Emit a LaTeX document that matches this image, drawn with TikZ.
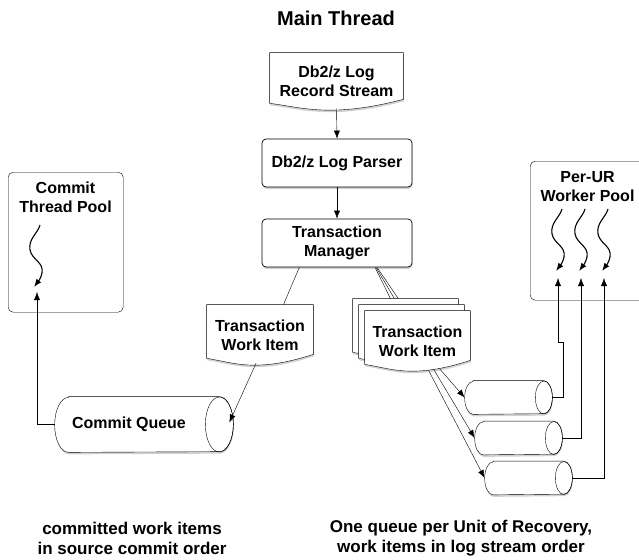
\documentclass[tikz,border=0pt]{standalone}
\usepackage{fontspec}
\setmainfont{Liberation Sans}
\usetikzlibrary{arrows.meta, calc, shadows}

\pgfdeclarelayer{lines}
\pgfdeclarelayer{sheets}
\pgfsetlayers{lines,sheets,main}

\tikzset{
  lbl/.style={font=\bfseries\fontsize{16}{19}\selectfont, align=center},
  note/.style={font=\bfseries\fontsize{17}{20}\selectfont, align=center},
  dropsh/.style={drop shadow={shadow xshift=0.5pt, shadow yshift=-2pt, opacity=0.3, fill=black!60}},
  box/.style={lbl, draw, fill=white, rounded corners=4pt, minimum width=150pt, minimum height=48pt, dropsh},
  sheet/.style={lbl, inner sep=0pt},
  qbody/.style={inner sep=0pt},
  sheetline/.style={draw, fill=white, dropsh},
  pool/.style={draw, rounded corners=5pt, minimum width=115pt, minimum height=140pt, anchor=north west},
  arr/.style={-{Latex[length=8pt,width=6pt]}},
  thread/.pic={\draw[arr, line width=1.1pt] (0,0) .. controls (-2,8) and (-12,14) .. (-10,25)
    .. controls (-8,35) and (4,37) .. (2,48) .. controls (1,54) and (-3,58) .. (-6,62);}
}

\newcommand\sheetoutline[1]{%
  \path[sheetline] (#1.north west) -- (#1.north east) -- ($(#1.south east)+(0,-11)$)
    .. controls ($(#1.south west)!0.45!(#1.south east)+(0,8)$)
           and ($(#1.south west)!0.25!(#1.south east)+(0,-3)$)
    .. ($(#1.south west)+(0,-7)$) -- cycle;}

\newcommand\queueoutline[3]{%
  \path[sheetline] ($(#1.north west)+(#2,0)$) -- ($(#1.north east)+(-#2,0)$)
    arc[start angle=90, end angle=-90, x radius=#2pt, y radius=#3pt]
    -- ($(#1.south west)+(#2,0)$)
    arc[start angle=-90, end angle=-270, x radius=#2pt, y radius=#3pt] -- cycle;
  \draw ($(#1.east)+(-#2,0)$) ellipse [x radius=#2pt, y radius=#3pt];}

\begin{document}
\begin{tikzpicture}[x=1pt, y=-1pt, line width=0.7pt]
\useasboundingbox (0,0) rectangle (639,559);

\node[font=\bfseries\fontsize{20}{24}\selectfont] (title) at (336,18) {Main Thread};

\node[sheet, minimum width=133pt, minimum height=57pt] (rs) at (336.5,81.5) {Db2/z Log\\Record Stream};
\node[box] (lp) at (337,163) {Db2/z Log Parser};
\node[box] (tm) at (337,243) {Transaction\\Manager};

\node[sheet, minimum width=106pt, minimum height=60pt] (cwi) at (260,335) {Transaction\\Work Item};
\node[sheet, minimum width=105pt, minimum height=60pt] (wib) at (405.5,329) {};
\node[sheet, minimum width=105pt, minimum height=60pt] (wim) at (411.5,335) {};
\node[sheet, minimum width=105pt, minimum height=60pt] (wi) at (417.5,341) {Transaction\\Work Item};

\node[qbody, minimum width=178pt, minimum height=55pt] (cq) at (144,424.5) {};
\node[lbl] (cqt) at (129,424.5) {Commit Queue};
\node[qbody, minimum width=87pt, minimum height=33pt] (q1) at (508.5,397.5) {};
\node[qbody, minimum width=87pt, minimum height=33pt] (q2) at (518.5,438) {};
\node[qbody, minimum width=87pt, minimum height=33pt] (q3) at (528.5,478) {};

\begin{pgfonlayer}{sheets}
\sheetoutline{rs}
\sheetoutline{cwi}
\sheetoutline{wib}
\sheetoutline{wim}
\sheetoutline{wi}
\queueoutline{cq}{14}{27.5}
\queueoutline{q1}{8.5}{16.5}
\queueoutline{q2}{8.5}{16.5}
\queueoutline{q3}{8.5}{16.5}
\end{pgfonlayer}

\node[pool] (cpool) at (8,172) {};
\node[lbl] (cpt) at (65.5,197.5) {Commit\\Thread Pool};
\node[pool, minimum height=139pt] (upool) at (530,161) {};
\node[lbl] (upt) at (587.5,187) {Per-UR\\Worker Pool};

\pic at (40,225) {thread};
\foreach \x in {562,585,608}
  \pic at (\x,209) {thread};

\coordinate (ctip) at (37,292);
\coordinate (u1) at (558,278);
\coordinate (u2) at (581,278);
\coordinate (u3) at (604,278);

\draw[arr] ([yshift=2pt]rs.south) -- (lp.north);
\draw[arr] (lp.south) -- (tm.north);
\draw ($(tm.south west)!0.25!(tm.south east)$) -- ($(cwi.north west)!0.72!(cwi.north east)$);
\draw[arr] ($(cwi.south)+(-4,-2)$) -- ($(cq.east)+(-4,-2)$);
\draw[arr] (cq.west) -| (ctip);

\begin{pgfonlayer}{lines}
\draw ($(tm.south)+(38,0)$) -- ($(wib.north)+(-14.5,1)$);
\draw ($(tm.south)+(39,0)$) -- ($(wib.north)+(-10.5,1)$);
\draw ($(tm.south)+(40,0)$) -- ($(wib.north)+(-6.5,1)$);
\draw[arr] ($(wi.south)+(20,-5)$) -- (q1.west);
\draw[arr] ($(wi.south)+(15,-4)$) -- (q2.west);
\draw[arr] ($(wi.south)+(10,-3)$) -- (q3.west);
\end{pgfonlayer}

\draw[arr] (q1.east) -- ++(11,0) -- ++(0,-55) -| (u1);
\draw[arr] (q2.east) -| (u2);
\draw[arr] (q3.east) -| (u3);

\node[note] (n1) at (132,538) {committed work items\\in source commit order};
\node[note] (n2) at (461,538) {One queue per Unit of Recovery,\\work items in log stream order};
\end{tikzpicture}
\end{document}
